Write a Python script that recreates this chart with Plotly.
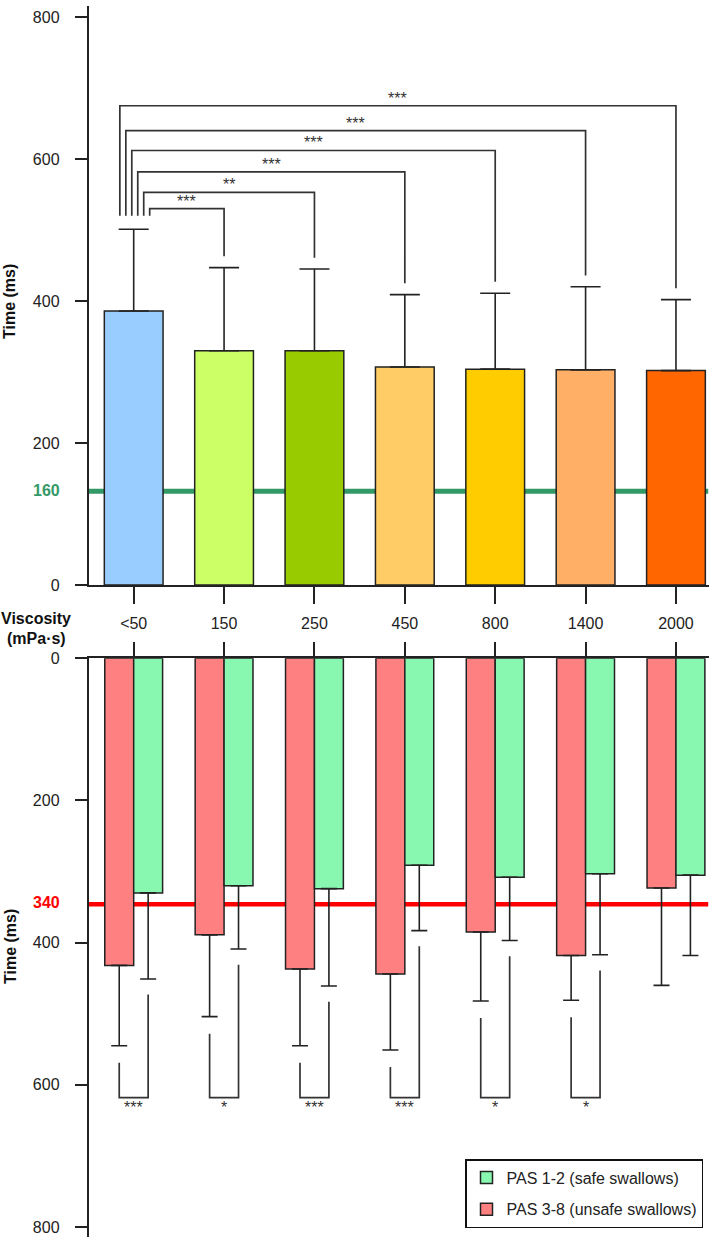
import plotly.graph_objects as go

# ---------------- data ----------------
categories = ["&lt;50", "150", "250", "450", "800", "1400", "2000"]

# top panel: all swallows
top_mean = [386, 330, 330, 307, 304, 303, 302]
top_err = [115, 117, 115, 102, 107, 117, 100]
top_colors = ["#99CCFF", "#CCFF66", "#99CC00", "#FFCC66", "#FFCC00", "#FFB066", "#FF6600"]
top_sig = ["***", "**", "***", "***", "***", "***"]      # <50 vs each other viscosity
top_line_value = 132      # position of the green reference line on the drawn axis
top_line_label = "160"

# bottom panel: unsafe vs safe swallows
unsafe_mean = [432, 389, 437, 444, 385, 418, 323]
unsafe_err = [113, 115, 108, 107, 97, 63, 137]
safe_mean = [330, 320, 324, 291, 308, 303, 305]
safe_err = [121, 89, 137, 92, 89, 114, 113]
bottom_sig = ["***", "*", "***", "***", "*", "*", ""]
bottom_line_value = 346
bottom_line_label = "340"

# ---------------- layout geometry ----------------
W, H = 709, 1243
X0, X1 = 88.5, 708.5
TOP_Y0, TOP_Y1 = 6, 585          # pixel top / bottom of top panel
BOT_Y0, BOT_Y1 = 658.3, 1237     # pixel top / bottom of bottom panel
TOP_RANGE = 815.5
BOT_RANGE = 814

FONT = "Liberation Sans, Arial, sans-serif"
INK = "#222222"

x_idx = list(range(len(categories)))

fig = go.Figure()

fig.add_trace(go.Bar(
    x=x_idx, y=top_mean, xaxis="x", yaxis="y",
    marker=dict(color=top_colors, line=dict(color=INK, width=1.5)),
    error_y=dict(type="data", symmetric=False, array=top_err,
                 arrayminus=[0] * len(top_err), color=INK, thickness=1.6, width=15),
    showlegend=False, width=0.65,
))

fig.add_trace(go.Bar(
    x=x_idx, y=unsafe_mean, xaxis="x2", yaxis="y2",
    name="PAS 3-8 (unsafe swallows)", legendrank=2, legendgroup="b",
    marker=dict(color="#FF8080", line=dict(color=INK, width=1.5)),
    error_y=dict(type="data", symmetric=False, array=unsafe_err,
                 arrayminus=[0] * len(unsafe_err), color=INK, thickness=1.6, width=8),
))
fig.add_trace(go.Bar(
    x=x_idx, y=safe_mean, xaxis="x2", yaxis="y2",
    name="PAS 1-2 (safe swallows)", legendrank=1, legendgroup="a",
    marker=dict(color="#88F8B0", line=dict(color=INK, width=1.5)),
    error_y=dict(type="data", symmetric=False, array=safe_err,
                 arrayminus=[0] * len(safe_err), color=INK, thickness=1.6, width=8),
))

shapes = []
# reference lines (behind bars)
shapes.append(dict(type="line", xref="x", yref="y", x0=-0.5, x1=6.36,
                   y0=top_line_value, y1=top_line_value,
                   line=dict(color="#339966", width=5), layer="below"))
shapes.append(dict(type="line", xref="x2", yref="y2", x0=-0.5, x1=6.36,
                   y0=bottom_line_value, y1=bottom_line_value,
                   line=dict(color="#FF0000", width=4.5), layer="below"))

annotations = []

# top significance brackets
top_levels = [530, 553, 582, 612, 640, 675]
for j in range(1, len(categories)):
    lx = 0.177 - 0.066 * (j - 1)
    lvl = top_levels[j - 1]
    end = top_mean[j] + top_err[j] + 16
    shapes.append(dict(type="path", xref="x", yref="y",
                       path=f"M {lx},520 L {lx},{lvl} L {j},{lvl} L {j},{end}",
                       line=dict(color="#333333", width=1.7)))
    annotations.append(dict(xref="x", yref="y", x=(lx + j) / 2, y=lvl,
                            text=top_sig[j - 1], showarrow=False, yanchor="bottom",
                            yshift=-3, font=dict(family=FONT, size=16, color="#333333")))

# bottom significance brackets
for i, s in enumerate(bottom_sig):
    if not s:
        continue
    lx, rx = i - 0.16, i + 0.16
    ltop = unsafe_mean[i] + unsafe_err[i] + 24
    rtop = safe_mean[i] + safe_err[i] + 22
    shapes.append(dict(type="path", xref="x2", yref="y2",
                       path=f"M {lx},{ltop} L {lx},618 L {rx},618 L {rx},{rtop}",
                       line=dict(color="#333333", width=1.7)))
    annotations.append(dict(xref="x2", yref="y2", x=i, y=618, text=s, showarrow=False,
                            yanchor="top", yshift=1,
                            font=dict(family=FONT, size=16, color="#333333")))

# texts
def px(xp, yp):
    return xp / W, 1 - yp / H

for txt, (xp, yp), col in [(top_line_label, (62, 491), "#339966"),
                           (bottom_line_label, (62, 902), "#FF0000")]:
    ax, ay = px(xp, yp)
    annotations.append(dict(xref="paper", yref="paper", x=ax, y=ay, text=f"<b>{txt}</b>",
                            showarrow=False, xanchor="right", yanchor="middle",
                            font=dict(family=FONT, size=16, color=col)))

for txt, yp in [("Viscosity", 618), ("(mPa·s)", 638)]:
    ax, ay = px(36, yp)
    annotations.append(dict(xref="paper", yref="paper", x=ax, y=ay, text=f"<b>{txt}</b>",
                            showarrow=False, xanchor="center", yanchor="middle",
                            font=dict(family=FONT, size=16, color="#111111")))

for yp in [302, 947]:
    ax, ay = px(10, yp)
    annotations.append(dict(xref="paper", yref="paper", x=ax, y=ay, text="<b>Time (ms)</b>",
                            showarrow=False, textangle=-90, xanchor="center", yanchor="middle",
                            font=dict(family=FONT, size=16, color="#111111")))

axis_common = dict(showgrid=False, zeroline=False, showline=True, linecolor=INK,
                   linewidth=1.5, ticks="outside", tickcolor=INK, tickwidth=1.5,
                   automargin=False,
                   tickfont=dict(family=FONT, size=16, color="#222222"))

fig.update_layout(
    width=W, height=H, autosize=False,
    margin=dict(l=0, r=0, t=0, b=0, pad=0, autoexpand=False),
    paper_bgcolor="white", plot_bgcolor="white",
    barmode="group", bargap=0.36, bargroupgap=0,
    xaxis=dict(domain=[X0 / W, X1 / W], range=[-0.5, 6.36], anchor="y",
               tickvals=x_idx, ticktext=categories, ticklen=17,
               ticklabelstandoff=6, **axis_common),
    yaxis=dict(domain=[1 - TOP_Y1 / H, 1 - TOP_Y0 / H], range=[0, TOP_RANGE], anchor="x",
               tickvals=[0, 200, 400, 600, 800], ticklen=12, ticklabelstandoff=12,
               **axis_common),
    xaxis2=dict(domain=[X0 / W, X1 / W], range=[-0.5, 6.36], anchor="y2", side="top",
                tickvals=x_idx, showticklabels=False, ticklen=15, **axis_common),
    yaxis2=dict(domain=[1 - BOT_Y1 / H, 1 - BOT_Y0 / H], range=[BOT_RANGE, 0], anchor="x2",
                tickvals=[0, 200, 400, 600, 800], ticklen=12, ticklabelstandoff=12,
                **axis_common),
    shapes=shapes,
    annotations=annotations,
    legend=dict(x=465 / W, y=1 - 1159 / H, xanchor="left", yanchor="top",
                bordercolor="#111111", borderwidth=1.5, bgcolor="white",
                font=dict(family=FONT, size=16, color="#222222"),
                tracegroupgap=8),
)

fig.write_html("out.html", config={"displayModeBar": False},
               post_script="document.body.style.margin='0';"
                           "document.documentElement.style.overflow='hidden';"
                           "document.body.style.overflow='hidden';")
